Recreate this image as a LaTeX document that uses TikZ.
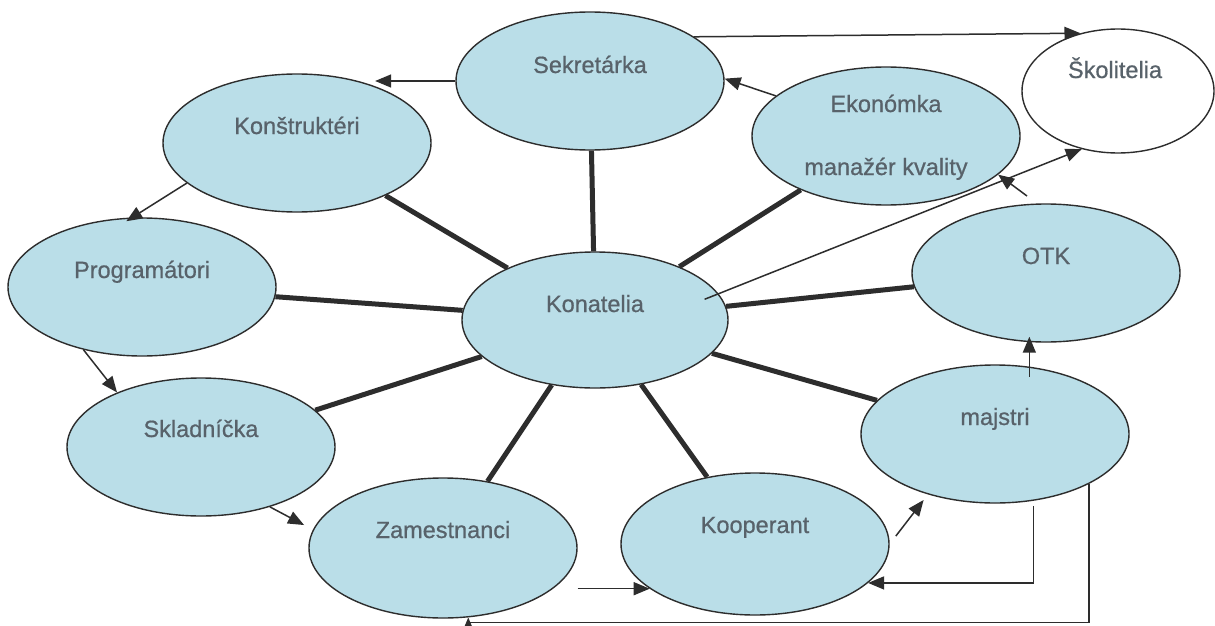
\documentclass[tikz,border=0pt]{standalone}
\usepackage{fontspec}
\setmainfont[FakeBold=0.7]{Liberation Sans}
\usetikzlibrary{arrows.meta,shapes.geometric,calc}
\definecolor{bubfill}{RGB}{186,222,232}
\definecolor{edgec}{RGB}{45,45,45}
\definecolor{txtc}{RGB}{88,98,106}
\begin{document}
\begin{tikzpicture}[x=1pt,y=-1pt,
  bub/.style={ellipse, draw=edgec, line width=1.4pt, fill=bubfill, minimum width=268pt, minimum height=138pt, inner sep=0pt},
  txt/.style={anchor=base, text=txtc, font=\fontsize{23.5}{28}\selectfont, inner sep=0pt},
  conn/.style={draw=edgec, line width=5pt},
  arr/.style={draw=edgec, line width=1.5pt, -{Triangle[length=16pt,width=13pt]}}]

\fill[white] (0,0) rectangle (1215,626);
\useasboundingbox (0,0) rectangle (1215,626);

% bubbles
\node[bub] (sek) at (590,81) {};
\node[bub, fill=white, minimum width=192pt, minimum height=124pt] (skol) at (1118,91) {};
\node[bub] (ekon) at (886,136) {};
\node[bub] (kons) at (297,143) {};
\node[bub] (prog) at (142,287) {};
\node[bub, minimum width=266pt, minimum height=136pt] (kona) at (595,320) {};
\node[bub] (otk) at (1046,273) {};
\node[bub] (maj) at (995,434) {};
\node[bub] (sklad) at (201,447) {};
\node[bub, minimum height=140pt] (zam) at (443,548) {};
\node[bub, minimum height=142pt] (koop) at (755,544) {};

% texts
\node[txt] (sek-t) at ([yshift=8pt]sek.center) {Sekretárka};
\node[txt] (skol-t) at ([yshift=13pt,xshift=-3pt]skol.center) {Školitelia};
\node[txt] (ekon-t1) at ([yshift=24pt]ekon.center) {Ekonómka};
\node[txt] (ekon-t2) at ([yshift=-39pt]ekon.center) {manažér kvality};
\node[txt] (kons-t) at ([yshift=9pt]kons.center) {Konštruktéri};
\node[txt] (prog-t) at ([yshift=9pt]prog.center) {Programátori};
\node[txt] (kona-t) at ([yshift=8pt]kona.center) {Konatelia};
\node[txt] (otk-t) at ([yshift=9pt]otk.center) {OTK};
\node[txt] (maj-t) at ([yshift=9pt]maj.center) {majstri};
\node[txt] (sklad-t) at ([yshift=10pt]sklad.center) {Skladníčka};
\node[txt] (zam-t) at ([yshift=10pt]zam.center) {Zamestnanci};
\node[txt] (koop-t) at ([yshift=11pt]koop.center) {Kooperant};

% thick connectors
\foreach \n in {sek,ekon,kons,prog,otk,maj,sklad,zam,koop}
  \draw[conn] (kona) -- (\n);

% arrows
\draw[arr] (sek.23) -- (skol.123);
\draw[arr] (ekon.160) -- (sek.1);
\draw[arr] (sek.west) -- (sek.west -| kons.36);
\draw[arr, shorten >=-7pt] (kons.200) -- (prog.98);
\draw[arr] (prog.227) -- (sklad.147);
\draw[arr, shorten >=10pt] (sklad.-41) -- (zam.172);
\draw[arr] (koop.203 -| zam.east) -- (koop.203);
\draw[arr, shorten <=10pt, shorten >=7pt] (koop.east) -- (maj.222);
\draw[arr, shorten <=5pt] (maj.-60) |- (koop.-19);
\draw[arr] (maj.-28) |- ([yshift=-5pt]zam.-70) -- (zam.-70);
\draw[arr, shorten <=-10pt, shorten >=-6pt] (maj.63) -- (maj.63 |- otk.south);
\draw[arr, shorten <=-15pt] (kona.12) -- (skol.238);
\coordinate (free) at (1027,196);
\draw[arr] (free) -- (ekon.-19);
\end{tikzpicture}
\end{document}
